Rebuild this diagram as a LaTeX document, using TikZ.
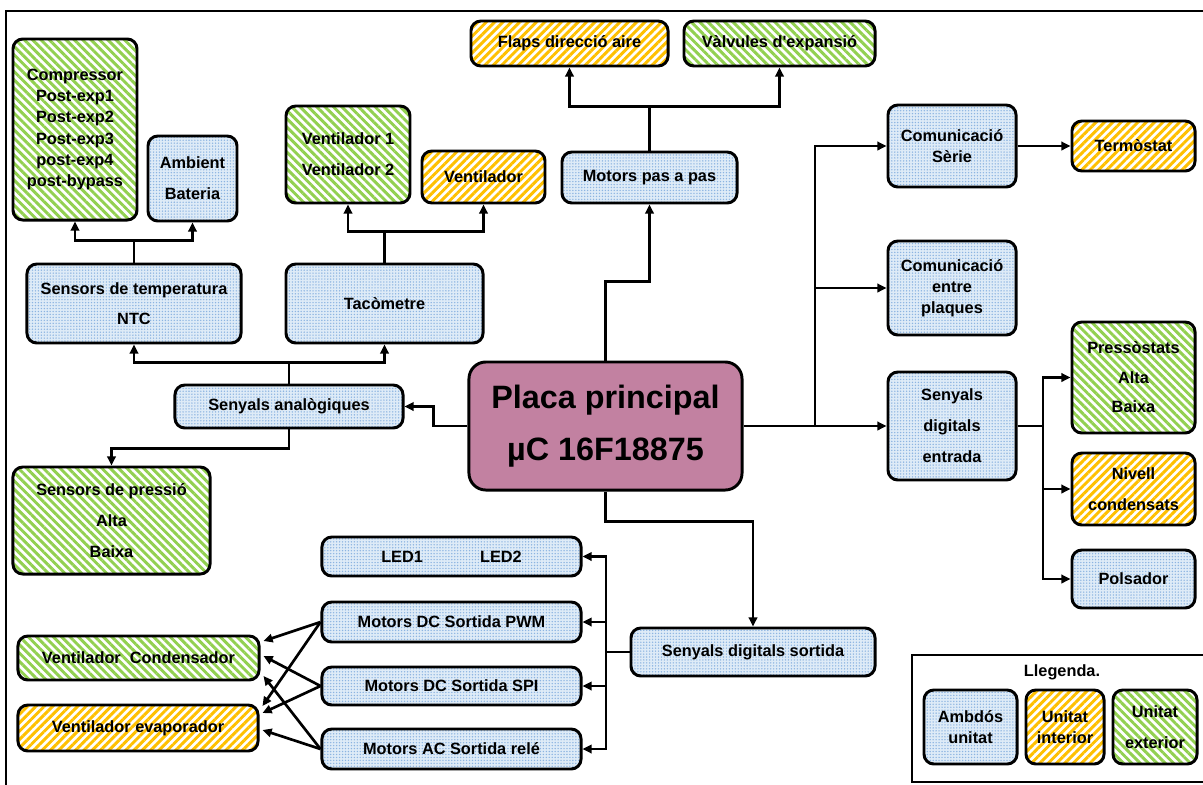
\documentclass[tikz,border=0pt]{standalone}
\usepackage{fontspec}
\setmainfont{Liberation Sans}
\usepackage{xcolor}
\usepackage{tikz}
\usetikzlibrary{arrows.meta, patterns.meta}

\definecolor{blauclar}{RGB}{222,235,247}
\definecolor{blaupunt}{RGB}{140,180,225}
\definecolor{taronja}{RGB}{255,192,0}
\definecolor{verd}{RGB}{146,208,80}
\definecolor{malva}{RGB}{194,129,161}

\tikzset{
    caixa/.style={draw, line width=2.1pt, rounded corners=7pt, align=center, inner sep=1pt,
        font=\bfseries\fontsize{11.6}{15}\selectfont},
    ambdos/.style={caixa, preaction={fill=blauclar},
        pattern={Dots[distance=2.1pt,radius=0.55pt]}, pattern color=blaupunt},
    interior/.style={caixa, preaction={fill=white},
        pattern={Lines[angle=45,distance=4.2pt,line width=2.1pt]}, pattern color=taronja},
    exterior/.style={caixa, preaction={fill=white},
        pattern={Lines[angle=-45,distance=4.2pt,line width=2.1pt]}, pattern color=verd},
    fletxa/.style={-{Triangle[length=6.5pt,width=6pt]}, line width=1.9pt},
    linia/.style={-, line width=1.9pt}
}

\begin{document}
\begin{tikzpicture}[x=0.025cm, y=-0.025cm]
        \useasboundingbox (0,0) rectangle (1203,784);
        \clip (0,0) rectangle (1203,784);
        \draw[line width=1.5pt] (6,11) rectangle (1230,810);

        \node[exterior, minimum width=3.1cm, minimum height=4.525cm] (comp) at (75,129.5)
            {Compressor\\Post-exp1\\Post-exp2\\Post-exp3\\post-exp4\\post-bypass};
        \node[ambdos, minimum width=2.225cm, minimum height=2.125cm] (amb) at (192.5,178.5)
            {Ambient\\[7pt]Bateria};
        \node[ambdos, minimum width=5.35cm, minimum height=1.975cm] (ntc) at (134,303.5)
            {Sensors de temperatura\\[6pt]NTC};

        \node[exterior, minimum width=3.1cm, minimum height=2.425cm] (vent) at (348,154.5)
            {Ventilador 1\\[7pt]Ventilador 2};
        \node[interior, minimum width=3.075cm, minimum height=1.3cm] (ventint) at (483.5,177) {Ventilador};
        \node[ambdos, minimum width=4.925cm, minimum height=1.975cm] (taco) at (384.5,303.5) {Tacòmetre};

        \node[ambdos, minimum width=4.375cm, minimum height=1.275cm] (pas) at (649.5,177.5) {Motors pas a pas};
        \node[interior, minimum width=4.925cm, minimum height=1.125cm] (flaps) at (569.5,43.5) {Flaps direcció aire};
        \node[exterior, minimum width=4.775cm, minimum height=1.125cm] (valv) at (779.5,43.5) {Vàlvules d\textquotesingle expansió};

        \node[ambdos, minimum width=3.2cm, minimum height=2.05cm] (serie) at (952,146) {Comunicació\\Sèrie};
        \node[interior, minimum width=3.075cm, minimum height=1.25cm] (termo) at (1133.5,146) {Termòstat};
        \node[ambdos, minimum width=3.2cm, minimum height=2.35cm] (plaques) at (952,288)
            {Comunicació\\entre\\plaques};
        \node[ambdos, minimum width=3.2cm, minimum height=2.7cm] (entrada) at (952,426)
            {Senyals\\[7pt]digitals\\[7pt]entrada};
        \node[exterior, minimum width=3.075cm, minimum height=2.775cm] (presso) at (1133.5,377.5)
            {Pressòstats\\[6pt]Alta\\[6pt]Baixa};
        \node[interior, minimum width=3.075cm, minimum height=1.8cm] (nivell) at (1133.5,489)
            {Nivell\\[7pt]condensats};
        \node[ambdos, minimum width=3.075cm, minimum height=1.45cm] (polsa) at (1133.5,579) {Polsador};

        \node[caixa, fill=malva, rounded corners=12pt, minimum width=6.825cm, minimum height=3.2cm,
            font=\bfseries\fontsize{23}{37}\selectfont] (placa) at (605.5,426) {Placa principal\\µC 16F18875};

        \node[ambdos, minimum width=5.7cm, minimum height=1.075cm] (analog) at (289,406.5) {Senyals analògiques};
        \node[exterior, minimum width=4.925cm, minimum height=2.675cm] (pressio) at (111.5,520.5)
            {Sensors de pressió\\[7pt]Alta\\[7pt]Baixa};

        \node[ambdos, minimum width=6.475cm, minimum height=0.975cm] (led) at (451.5,556.5) {LED1\hspace{3.5em}LED2};
        \node[ambdos, minimum width=6.475cm, minimum height=1cm] (pwm) at (451.5,622) {Motors DC Sortida PWM};
        \node[ambdos, minimum width=6.475cm, minimum height=0.95cm] (spi) at (451.5,686) {Motors DC Sortida SPI};
        \node[ambdos, minimum width=6.475cm, minimum height=1cm] (rele) at (451.5,749) {Motors AC Sortida relé};

        \node[exterior, minimum width=6.025cm, minimum height=1.1cm] (conden) at (138.5,658) {Ventilador\ \ Condensador};
        \node[interior, minimum width=6cm, minimum height=1.15cm] (evap) at (138,728) {Ventilador evaporador};

        \node[ambdos, minimum width=6.1cm, minimum height=1.2cm] (sortida) at (753,652) {Senyals digitals sortida};

        \draw[line width=2.1pt] (912,655) rectangle (1230,782);
        \node[font=\bfseries\fontsize{11.6}{15}\selectfont] (titol) at (1062,672) {Llegenda.};
        \node[ambdos, minimum width=2.325cm, minimum height=1.85cm] (lg1) at (970.5,727) {Ambdós\\unitat};
        \node[interior, minimum width=1.95cm, minimum height=1.85cm] (lg2) at (1065,727) {Unitat\\interior};
        \node[exterior, minimum width=2.1cm, minimum height=1.85cm] (lg3) at (1155,727) {Unitat\\[7pt]exterior};

        \draw[fletxa] (ntc.north) -- ++(0,-22) -| (comp.south);
        \draw[fletxa] (ntc.north) -- ++(0,-22) -| (amb.south);
        \draw[fletxa] (taco.north) -- ++(0,-31) -| (vent.south);
        \draw[fletxa] (taco.north) -- ++(0,-31) -| (ventint.south);
        \draw[fletxa] (analog.north) -- ++(0,-21) -| (ntc.south);
        \draw[fletxa] (analog.north) -- ++(0,-21) -| (taco.south);
        \draw[fletxa] (analog.south) -- ++(0,19) -| (pressio.north);

        \draw[fletxa] (placa.west) -- ++(-34,0) |- (analog.east);
        \draw[fletxa] (placa.north) -- ++(0,-79) -| (pas.south);
        \draw[fletxa] (pas.north) -- ++(0,-44) -| (flaps.south);
        \draw[fletxa] (pas.north) -- ++(0,-44) -| (valv.south);

        \coordinate (busr) at (815,426);
        \draw[fletxa] (placa.east) -- (entrada.west);
        \draw[fletxa] (busr) |- (serie.west);
        \draw[fletxa] (busr) |- (plaques.west);
        \draw[fletxa] (serie.east) -- (termo.west);

        \coordinate (busd) at (1043,426);
        \draw[linia] (entrada.east) -- (busd);
        \draw[fletxa] (busd) |- (presso.west);
        \draw[fletxa] (busd) |- (nivell.west);
        \draw[fletxa] (busd) |- (polsa.west);

        \draw[fletxa] (placa.south) -- ++(0,30) -| (sortida.north);
        \coordinate (busl) at (606,652);
        \draw[linia] (sortida.west) -- (busl);
        \draw[fletxa] (busl) |- (led.east);
        \draw[fletxa] (busl) |- (pwm.east);
        \draw[fletxa] (busl) |- (spi.east);
        \draw[fletxa] (busl) |- (rele.east);

        \draw[fletxa] (pwm.west) -- ([xshift=0.075cm,yshift=0.425cm]conden.east);
        \draw[fletxa] (pwm.west) -- ([xshift=0.075cm,yshift=0.55cm]evap.east);
        \draw[fletxa] (spi.west) -- ([xshift=0.075cm,yshift=0.05cm]conden.east);
        \draw[fletxa] (spi.west) -- ([xshift=0.075cm,yshift=0.375cm]evap.east);
        \draw[fletxa] (rele.west) -- ([xshift=0.075cm,yshift=-0.45cm]conden.east);
        \draw[fletxa] (rele.west) -- ([xshift=0.075cm,yshift=-0.05cm]evap.east);
    \end{tikzpicture}
\end{document}
